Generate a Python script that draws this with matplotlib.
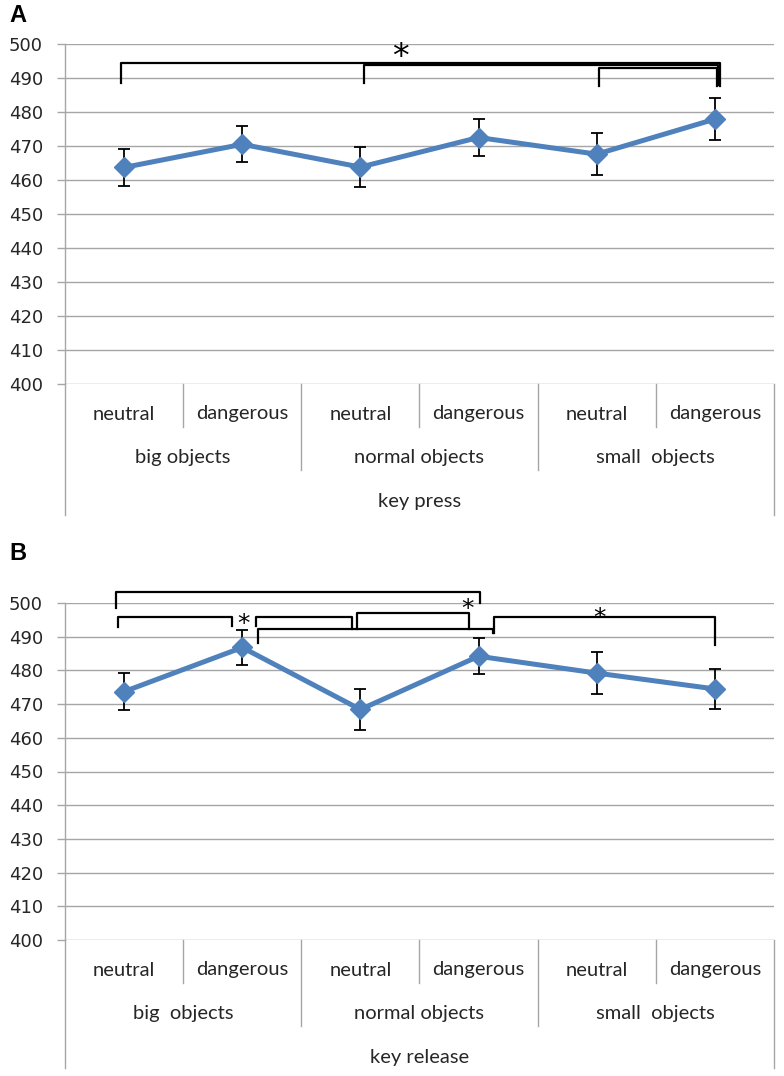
import matplotlib
matplotlib.use('Agg')
import matplotlib.pyplot as plt
from matplotlib.transforms import blended_transform_factory

W, H = 784, 1076

# ---------------- data ----------------
conditions = ['neutral', 'dangerous', 'neutral', 'dangerous', 'neutral', 'dangerous']
groups_A = ['big objects', 'normal objects', 'small  objects']
groups_B = ['big  objects', 'normal objects', 'small  objects']
title_A = 'key press'
title_B = 'key release'
yticks = [400, 410, 420, 430, 440, 450, 460, 470, 480, 490, 500]

press_rt = [463.7, 470.5, 463.8, 472.5, 467.6, 477.9]
press_err = [5.4, 5.3, 6.0, 5.5, 6.2, 6.1]
release_rt = [473.7, 486.8, 468.4, 484.2, 479.2, 474.5]
release_err = [5.5, 5.3, 6.1, 5.3, 6.3, 6.0]

# significance brackets: (x_left, x_right, y_left_end, y_top, y_right_end)
brackets_A = [
    (-0.03, 5.04, 488.5, 494.5, 487.6),
    (2.03, 5.03, 488.5, 493.8, 487.8),
    (4.02, 5.02, 487.6, 493.0, 487.6),
]
stars_A = [(2.34, 498.8)]
brackets_B = [
    (-0.07, 3.01, 498.4, 503.3, 500.0),
    (-0.05, 0.915, 493.0, 495.9, 493.3),
    (1.12, 1.93, 493.3, 495.9, 492.3),
    (1.975, 2.92, 492.3, 497.0, 492.3),
    (1.135, 3.12, 488.2, 492.2, 491.2),
    (3.13, 5.0, 491.2, 495.9, 487.6),
]
stars_B = [(1.01, 495.9), (2.91, 500.4), (4.02, 497.9)]

# ---------------- figure ----------------
fig = plt.figure(figsize=(W / 100, H / 100), dpi=100)
fig.patch.set_facecolor('white')

GRID = '#A6A6A6'
BLUE = '#4F81BD'
TXT = '#262626'


def fy(y_img):
    return (H - y_img) / H


def panel(ax, vals, errs, groups, title, base, bottom, brackets, stars,
          star_fs, label, label_y):
    x = list(range(len(vals)))
    ax.errorbar(x, vals, yerr=errs, fmt='none', ecolor='black',
                elinewidth=1.3, capsize=4.2, capthick=1.3, zorder=3)
    ax.plot(x, vals, color=BLUE, lw=3.6, marker='D', ms=10,
            markeredgecolor=BLUE, zorder=4, solid_joinstyle='round')
    ax.set_yticks(yticks)
    ax.grid(axis='y', color=GRID, lw=1)
    ax.set_axisbelow(True)
    for s in ['top', 'right', 'bottom']:
        ax.spines[s].set_visible(False)
    ax.spines['left'].set_color(GRID)
    ax.spines['left'].set_linewidth(1)
    ax.tick_params(axis='y', length=5.8, width=1, color=GRID, pad=10,
                   labelsize=13, labelcolor=TXT)
    ax.tick_params(axis='x', length=0, labelbottom=False)
    for lab in ax.get_yticklabels():
        lab.set_family('DejaVu Sans')

    trans = blended_transform_factory(ax.transData, fig.transFigure)
    # multi-level category axis lines
    for xv in [0.5, 2.5, 4.5]:
        ax.plot([xv, xv], [fy(base), fy(base + 43)], color=GRID, lw=1,
                transform=trans, clip_on=False)
    for xv in [1.5, 3.5]:
        ax.plot([xv, xv], [fy(base), fy(base + 86)], color=GRID, lw=1,
                transform=trans, clip_on=False)
    for xv in [-0.5, 5.5]:
        ax.plot([xv, xv], [fy(base), fy(bottom)], color=GRID, lw=1,
                transform=trans, clip_on=False)
    for i, c in enumerate(conditions):
        ax.text(i, fy(base + 30), c, transform=trans, ha='center',
                va='center', fontsize=14.5, family='Lato', color=TXT)
    for j, g in enumerate(groups):
        ax.text(2 * j + 0.5, fy(base + 73), g, transform=trans, ha='center',
                va='center', fontsize=14.5, family='Lato', color=TXT)
    ax.text(2.5, fy(base + 117), title, transform=trans, ha='center',
            va='center', fontsize=14.5, family='Lato', color=TXT)

    for (x0, x1, yl, yt, yr) in brackets:
        ax.plot([x0, x0, x1, x1], [yl, yt, yt, yr], color='black', lw=1.6,
                clip_on=False, solid_joinstyle='round', zorder=5)
    for (sx, sy) in stars:
        ax.annotate('*', xy=(sx, sy), xytext=(0, -0.58 * star_fs),
                    textcoords='offset points', ha='center', va='baseline',
                    fontsize=star_fs, family='DejaVu Sans', color='black',
                    annotation_clip=False, zorder=6)

    fig.text(18 / W, fy(label_y), label, ha='center', va='center',
             fontsize=17, weight='bold', family='Liberation Sans')
    ax.set_xlim(-0.5, 5.5)
    ax.set_ylim(400, 500)


axA = fig.add_axes([65 / W, fy(384), (774 - 65) / W, (384 - 44) / H])
axB = fig.add_axes([65 / W, fy(940), (774 - 65) / W, (940 - 603) / H])

panel(axA, press_rt, press_err, groups_A, title_A, 384, 515,
      brackets_A, stars_A, 24, 'A', 15)
panel(axB, release_rt, release_err, groups_B, title_B, 940, 1068,
      brackets_B, stars_B, 18, 'B', 553)

fig.savefig('out.png', dpi=100, facecolor='white')
